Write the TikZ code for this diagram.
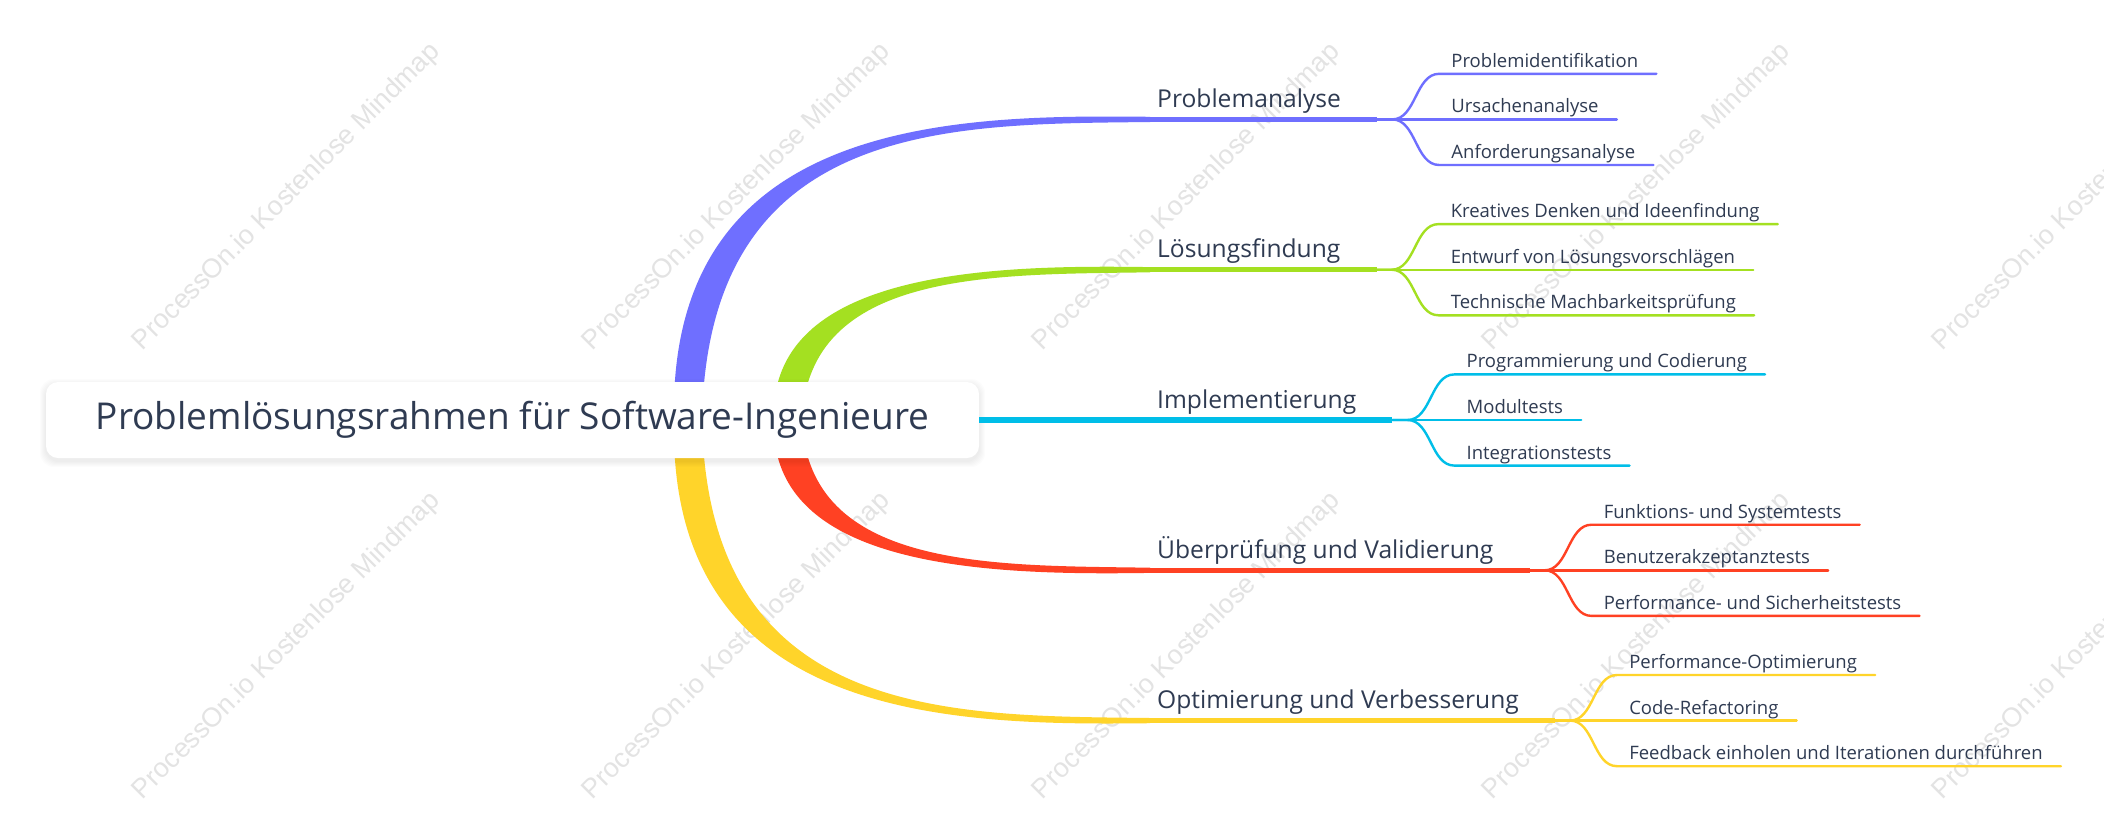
\documentclass[tikz,border=0pt]{standalone}
\usepackage{fontspec}
\setmainfont{Open Sans}
\newfontfamily\wmfont{Liberation Sans}
\usetikzlibrary{calc}
\definecolor{cblue}{HTML}{6F6FFF}
\definecolor{cgreen}{HTML}{A4E021}
\definecolor{ccyan}{HTML}{00BEE8}
\definecolor{cred}{HTML}{FF4123}
\definecolor{cyellow}{HTML}{FFD42A}
\definecolor{ctext}{HTML}{2F3B52}
\definecolor{cwm}{HTML}{E3E3E3}
% tapered main connector: colour, start x, branch y, direction (1 up, -1 down)
\newcommand\mmband[4]{%
  \fill[#1] ({#2-14},420) .. controls ({#2-20},#3) and ({#2+0.567*(1150-#2)},{#3-5*#4}) .. (1150,{#3-2.6*#4})
    -- (1150,{#3+2.6*#4}) .. controls ({#2+0.567*(1150-#2)},{#3+5*#4}) and ({#2+20},#3) .. ({#2+14},420) -- cycle;}
\begin{document}
\begin{tikzpicture}[x=1pt,y=-1pt,
  wm/.style={font=\wmfont\fontsize{27}{27}\selectfont, text=cwm, rotate=45, inner sep=0},
  branchlbl/.style={font=\fontsize{24.6}{28}\selectfont, text=ctext, anchor=base west, inner sep=0},
  leaflbl/.style={font=\fontsize{18.5}{22}\selectfont, text=ctext, anchor=base west, inner sep=0},
  branchline/.style={line width=5.2, line cap=butt},
  leafline/.style={line width=2.4, line cap=round},
]
\useasboundingbox[fill=white] (0,0) rectangle (2104,825);

% watermarks
\foreach \i in {0,...,4}{
  \node[wm] (wma\i) at ({287+450*\i},197) {ProcessOn.io Kostenlose Mindmap};
  \node[wm] (wmb\i) at ({287+450*\i},646) {ProcessOn.io Kostenlose Mindmap};
}

% main tapered connectors
\mmband{cblue}{688}{119.4}{1}
\mmband{cgreen}{788}{269.7}{1}
\mmband{cred}{788}{570.3}{-1}
\mmband{cyellow}{688}{720.6}{-1}

% root shadow and node
\foreach \k in {1,...,6}
  \fill[black, opacity=0.012, rounded corners=14] ({46-\k},{382-\k+3}) rectangle ({979+\k},{458+\k+3});
\node[fill=white, rounded corners=12, minimum width=933, minimum height=76, inner sep=0,
      font=\fontsize{37}{44}\selectfont, text=ctext] (root) at (512.5,420)
      {Problemlösungsrahmen für Software-Ingenieure};

% branch rows
\coordinate (r1) at (0,119.4);
\coordinate (r2) at (0,269.7);
\coordinate (r3) at (0,420);
\coordinate (r4) at (0,570.3);
\coordinate (r5) at (0,720.6);
\coordinate (s1) at (1150,119.4);
\coordinate (s2) at (1150,269.7);
\coordinate (s4) at (1150,570.3);
\coordinate (s5) at (1150,720.6);

\node[branchlbl] (b1) at (1157,107.4) {Problemanalyse};
\node[branchlbl] (b2) at (1157,257.7) {Lösungsfindung};
\node[branchlbl] (b3) at (1157,408) {Implementierung};
\node[branchlbl] (b4) at (1157,558.3) {Überprüfung und Validierung};
\node[branchlbl] (b5) at (1157,708.6) {Optimierung und Verbesserung};

\foreach \i in {1,...,5}
  \coordinate (e\i) at ($(b\i.east |- r\i)+(36,0)$);

\draw[branchline, cblue] (s1) -- (e1);
\draw[branchline, cgreen] (s2) -- (e2);
\draw[branchline, ccyan] (root.east) -- (e3);
\draw[branchline, cred] (s4) -- (e4);
\draw[branchline, cyellow] (s5) -- (e5);

% leaves
\newcommand\leafrow[5]{% branch index, colour, three texts
  \node[leaflbl] (l#1a) at ($(e#1)+(74,-52.1)$) {#3};
  \node[leaflbl] (l#1b) at ($(e#1)+(74,-6.5)$) {#4};
  \node[leaflbl] (l#1c) at ($(e#1)+(74,39.1)$) {#5};
  \coordinate (k#1a) at ($(e#1)+(62,-45.6)$);
  \coordinate (k#1c) at ($(e#1)+(62,45.6)$);
  \draw[leafline, #2] (e#1) -- +(15,0) .. controls +(24,0) and +(-24,0) .. (k#1a) -- ($(l#1a.base east)+(18,6.5)$);
  \draw[leafline, #2] (e#1) -- ($(l#1b.base east)+(18,6.5)$);
  \draw[leafline, #2] (e#1) -- +(15,0) .. controls +(24,0) and +(-24,0) .. (k#1c) -- ($(l#1c.base east)+(18,6.5)$);
}
\leafrow{1}{cblue}{Problemidentifikation}{Ursachenanalyse}{Anforderungsanalyse}
\leafrow{2}{cgreen}{Kreatives Denken und Ideenfindung}{Entwurf von Lösungsvorschlägen}{Technische Machbarkeitsprüfung}
\leafrow{3}{ccyan}{Programmierung und Codierung}{Modultests}{Integrationstests}
\leafrow{4}{cred}{Funktions- und Systemtests}{Benutzerakzeptanztests}{Performance- und Sicherheitstests}
\leafrow{5}{cyellow}{Performance-Optimierung}{Code-Refactoring}{Feedback einholen und Iterationen durchführen}
\end{tikzpicture}
\end{document}
